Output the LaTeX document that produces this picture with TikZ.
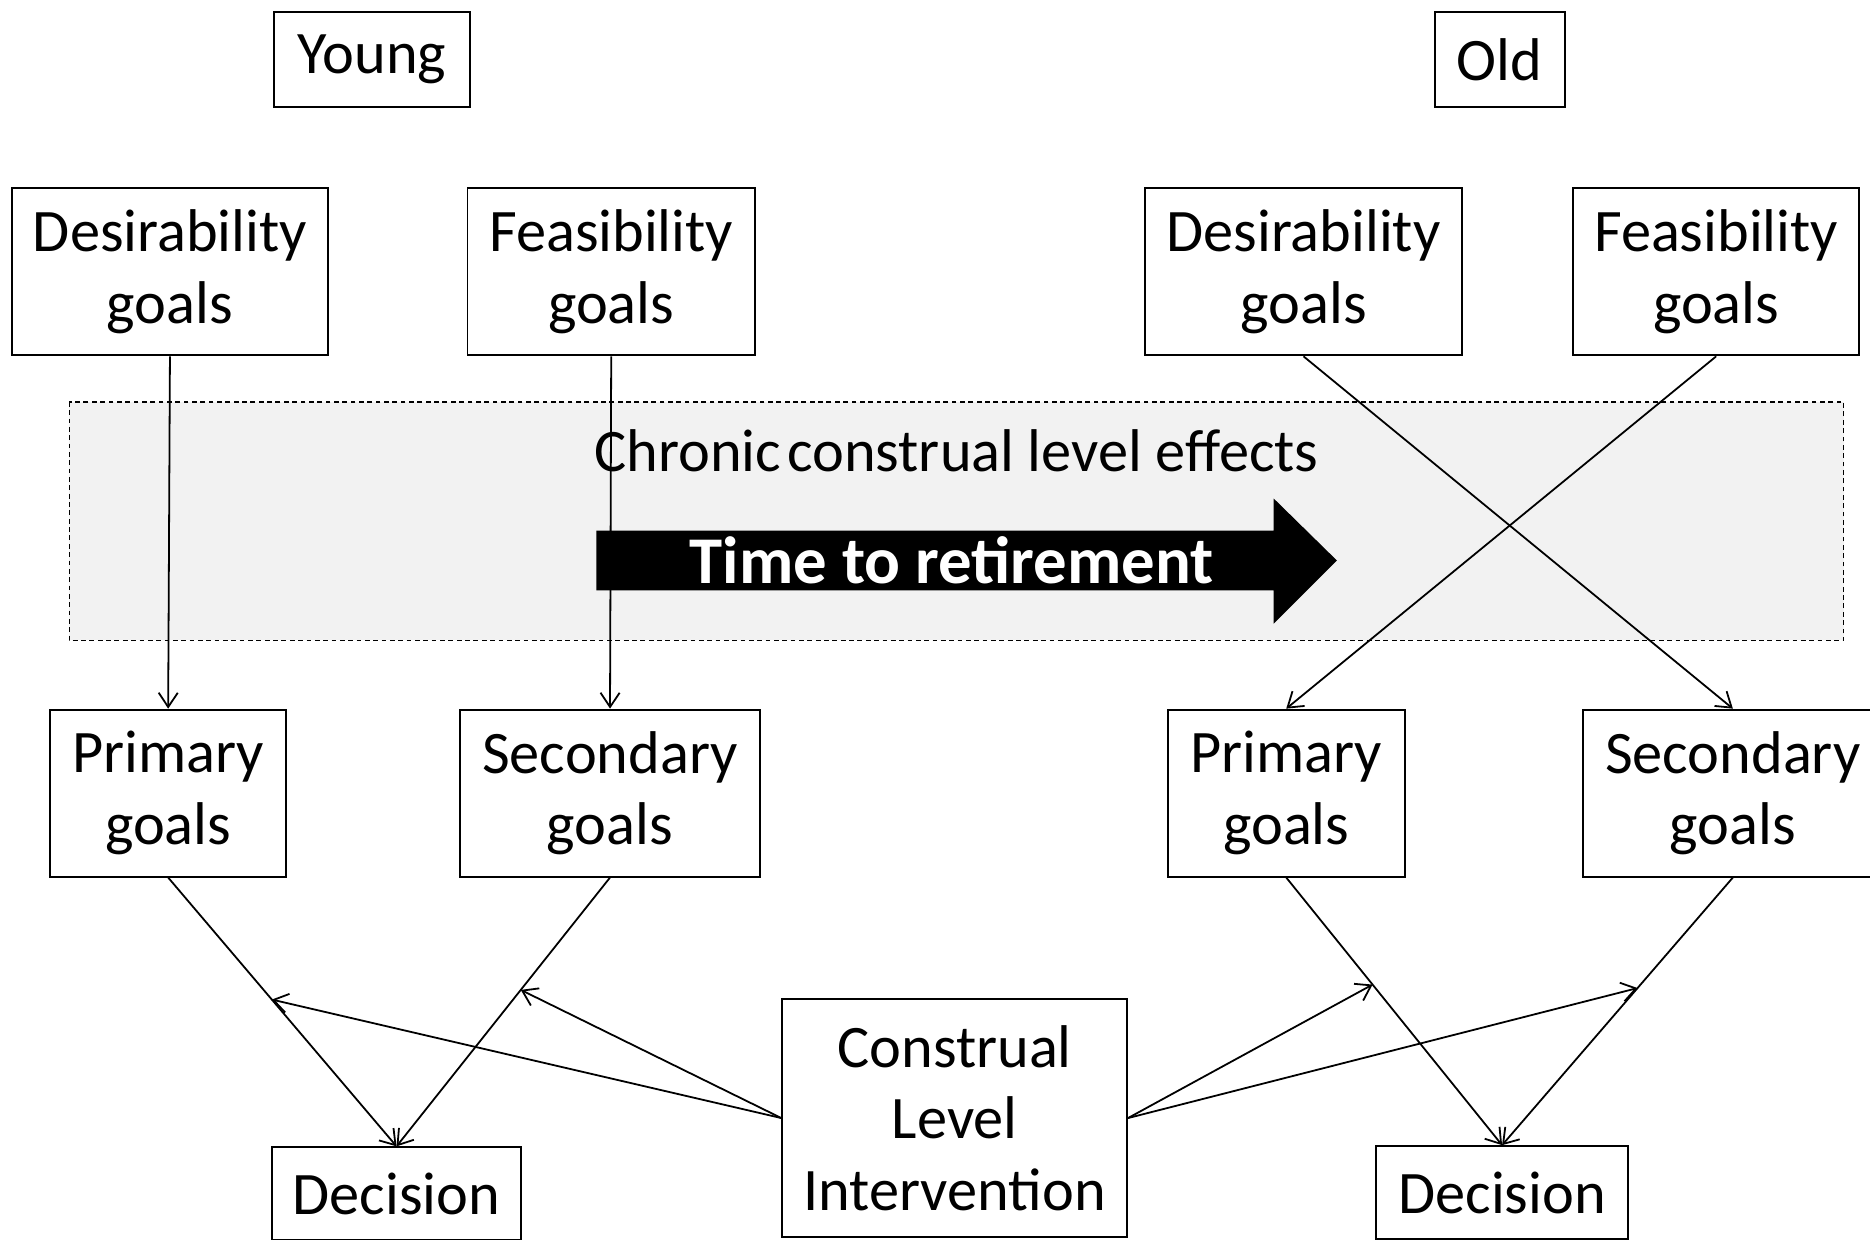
\documentclass[tikz,border=0pt]{standalone}
\usepackage{fontspec}
\setmainfont{Carlito}
\usetikzlibrary{arrows.meta,calc}
\begin{document}
\begin{tikzpicture}[x=0.5pt,y=-0.5pt,
  box/.style={draw,line width=0.8pt,inner sep=0pt,align=center,
    font=\fontsize{25.3}{30}\selectfont},
  conn/.style={line width=0.75pt,-{Straight Barb[length=6pt,width=8pt,line width=0.75pt]}},
  bgband/.style={draw,line width=0.5pt,dash pattern=on 2pt off 1.5pt,fill=black!5},
  bigarrow/.style={fill=black,draw=none}]
\useasboundingbox (0,0) rectangle (1568,1039);
\begin{scope}
\clip (0,0) rectangle (1568,1039);
% background band
\path[bgband] (58,337) rectangle (1546,537);
\node[font=\fontsize{25.3}{30}\selectfont] (chronic) at (802,378) {Chronic\hspace{0.1em}construal level effects};
\path[bigarrow] (500,445) -- (1068,445) -- (1068,418) -- (1121,470) -- (1068,523) -- (1068,495) -- (500,495) -- cycle;
\node[font=\fontsize{28}{30}\selectfont\bfseries,text=white] (time) at (798,470) {Time to retirement};
% boxes (sizes in pt = half of pixel units)
\node[box,minimum width=82pt,minimum height=40pt] (young) at (312,50) {Young};
\node[box,minimum width=54.5pt,minimum height=40pt] (old) at (1257.5,50) {Old};
\node[box,minimum width=132.5pt,minimum height=70pt] (desY) at (142.5,228) {Desirability\\goals};
\node[box,minimum width=120.5pt,minimum height=70pt] (feaY) at (512.5,228) {Feasibility\\goals};
\node[box,minimum width=133pt,minimum height=70pt] (desO) at (1093,228) {Desirability\\goals};
\node[box,minimum width=120pt,minimum height=70pt] (feaO) at (1439,228) {Feasibility\\goals};
\node[box,minimum width=99pt,minimum height=70pt] (priY) at (141,665) {Primary\\goals};
\node[box,minimum width=125.5pt,minimum height=70pt] (secY) at (511.5,665) {Secondary\\goals};
\node[box,minimum width=99.5pt,minimum height=70pt] (priO) at (1078.5,665) {Primary\\goals};
\node[box,minimum width=126pt,minimum height=70pt] (secO) at (1453,665) {Secondary\\goals};
\node[box,minimum width=144.5pt,minimum height=99.5pt] (cli) at (800.5,937.5) {Construal\\Level\\Intervention};
\node[box,minimum width=104.5pt,minimum height=39pt] (decY) at (332.5,1001) {Decision};
\node[box,minimum width=105.5pt,minimum height=39pt] (decO) at (1259.5,1000) {Decision};
% top-to-middle connectors
\draw[conn] (desY.south) -- (priY.north);
\draw[conn] (feaY.south) -- (secY.north);
\draw[conn] (desO.south) -- (secO.north);
\draw[conn] (feaO.south) -- (priO.north);
% middle-to-decision connectors
\draw[conn] (priY.south) -- (decY.north);
\draw[conn] (secY.south) -- (decY.north);
\draw[conn] (priO.south) -- (decO.north);
\draw[conn] (secO.south) -- (decO.north);
% intervention targets
\coordinate (tPY) at ($(priY.south)!0.454!(decY.north)$);
\coordinate (tSY) at ($(secY.south)!0.418!(decY.north)$);
\coordinate (tPO) at ($(priO.south)!0.40!(decO.north)$);
\coordinate (tSO) at ($(secO.south)!0.413!(decO.north)$);
\draw[conn] (cli.west) -- (tPY);
\draw[conn] (cli.west) -- (tSY);
\draw[conn] (cli.east) -- (tPO);
\draw[conn] (cli.east) -- (tSO);
\end{scope}
\end{tikzpicture}
\end{document}
